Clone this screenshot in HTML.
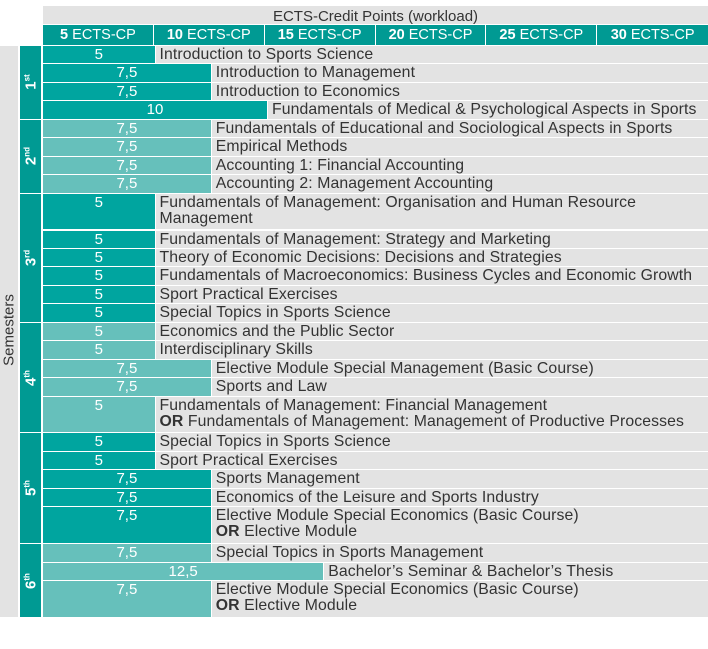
<!DOCTYPE html>
<html><head><meta charset="utf-8"><style>
body{margin:0;width:708px;height:649px;background:#fff;font-family:"Liberation Sans",sans-serif;position:relative;overflow:hidden}
.abs{position:absolute;box-sizing:border-box}
.hdr{background:#009a93;color:#fff;font-size:14.5px;text-align:center;line-height:20px}
.bar{color:#fff;font-size:15px;text-align:center;line-height:18px}
.lab{background:#e3e3e3;color:#333;font-size:15.8px;line-height:16px;padding-left:4px;white-space:nowrap;letter-spacing:0.1px}
.sem{background:#009a93;color:#fff;font-weight:bold;font-size:15px}
</style></head><body>
<div class="abs" style="left:43px;top:6px;width:665px;height:18px;background:#e3e3e3;text-align:center;font-size:15px;line-height:22px;color:#333">ECTS-Credit Points (workload)</div>
<div id="hdrs"></div>
<div class="abs" style="left:0;top:46px;width:18px;height:571px;background:#e3e3e3"></div>
<div class="abs" style="left:9px;top:330px;transform:translate(-50%,-50%) rotate(-90deg);font-size:15px;color:#333;white-space:nowrap">Semesters</div>
<div id="rows"></div>
<script>
const headerLabels=["5","10","15","20","25","30"];
const semesterNames=["1","2","3","4","5","6"];
const semesterSup=["st","nd","rd","th","th","th"];
const courseSemester=[1,1,1,1,2,2,2,2,3,3,3,3,3,3,4,4,4,4,4,5,5,5,5,5,6,6,6];
const courseValues=[5,7.5,7.5,10,7.5,7.5,7.5,7.5,5,5,5,5,5,5,5,5,7.5,7.5,5,5,5,7.5,7.5,7.5,7.5,12.5,7.5];
const courseLabels=["Introduction to Sports Science","Introduction to Management","Introduction to Economics","Fundamentals of Medical &amp; Psychological Aspects in Sports","Fundamentals of Educational and Sociological Aspects in Sports","Empirical Methods","Accounting 1: Financial Accounting","Accounting 2: Management Accounting","Fundamentals of Management: Organisation and Human Resource<br>Management","Fundamentals of Management: Strategy and Marketing","Theory of Economic Decisions: Decisions and Strategies","Fundamentals of Macroeconomics: Business Cycles and Economic Growth","Sport Practical Exercises","Special Topics in Sports Science","Economics and the Public Sector","Interdisciplinary Skills","Elective Module Special Management (Basic Course)","Sports and Law","Fundamentals of Management: Financial Management<br><b>OR</b> Fundamentals of Management: Management of Productive Processes","Special Topics in Sports Science","Sport Practical Exercises","Sports Management","Economics of the Leisure and Sports Industry","Elective Module Special Economics (Basic Course)<br><b>OR</b> Elective Module","Special Topics in Sports Management","Bachelor’s Seminar &amp; Bachelor’s Thesis","Elective Module Special Economics (Basic Course)<br><b>OR</b> Elective Module"];
const X0=43,UNIT=18.45,Y0=46;
function xs(v){return X0+v*22.5;}
function hx(v){return X0+v*22.17;}
const H=document.getElementById('hdrs');
headerLabels.forEach((h,i)=>{const d=document.createElement('div');d.className='abs hdr';


const a=hx(i*5),b=i==5?708:hx((i+1)*5)-1;d.style.cssText=`left:${a}px;top:25px;width:${b-a}px;height:20px`;d.innerHTML=`<b>${h}</b> ECTS-CP`;H.appendChild(d);});
const R=document.getElementById('rows');
let u=0;const semStart={},semEnd={};
courseLabels.forEach((l,i)=>{const s=courseSemester[i];const n=l.includes('<br>')?2:1;
const top=Y0+u*UNIT,h=n*UNIT-1;if(!(s in semStart))semStart[s]=top;semEnd[s]=top+h;
const w=xs(courseValues[i])-X0-1;const col=s%2?'#00a59f':'#66c0bb';
const b=document.createElement('div');b.className='abs bar';


b.style.cssText=`left:${X0}px;top:${top}px;width:${w}px;height:${h}px;background:${col}`;b.textContent=String(courseValues[i]).replace('.',',');R.appendChild(b);
const t=document.createElement('div');t.className='abs lab';


t.style.cssText=`left:${X0+w+1}px;top:${top}px;width:${708-X0-w-1}px;height:${h}px;${n==1?'line-height:'+h+'px':'padding-top:1px'}`;t.innerHTML=l;R.appendChild(t);
u+=n;});
semesterNames.forEach((s,i)=>{const k=i+1;const d=document.createElement('div');d.className='abs sem';


d.style.cssText=`left:20px;top:${semStart[k]}px;width:21px;height:${semEnd[k]-semStart[k]}px`;
d.innerHTML=`<div style="position:absolute;left:50%;top:50%;transform:translate(-50%,-50%) rotate(-90deg);white-space:nowrap">${s}<sup style="font-size:8px">${semesterSup[i]}</sup></div>`;R.appendChild(d);});
</script>
</body></html>
